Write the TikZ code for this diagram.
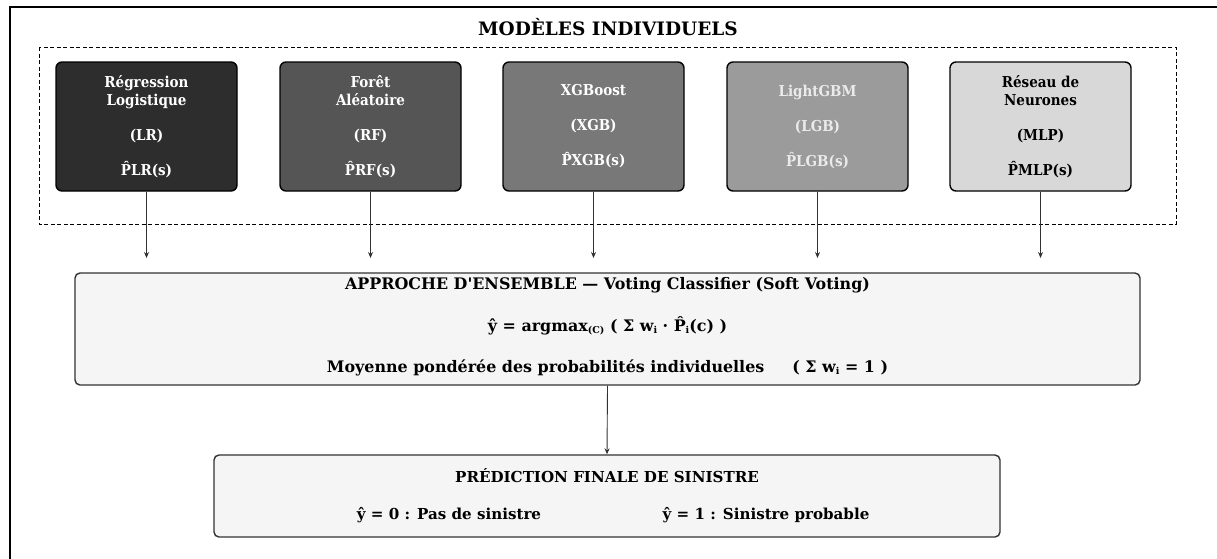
\documentclass[tikz,border=0pt]{standalone}
\usepackage{fontspec}
\setmainfont{DejaVu Serif}
\newfontfamily\etroit{DejaVu Serif Condensed}
\usetikzlibrary{arrows.meta,positioning}

\definecolor{fondA}{RGB}{45,45,45}
\definecolor{fondB}{RGB}{85,85,85}
\definecolor{fondC}{RGB}{120,120,120}
\definecolor{fondD}{RGB}{155,155,155}
\definecolor{fondE}{RGB}{216,216,216}
\definecolor{fondEns}{RGB}{245,245,245}
\definecolor{trait}{RGB}{50,50,50}

\newcommand{\indice}[1]{{\fontsize{9.5}{9.5}\selectfont\raisebox{-0.3ex}{#1}}}

\begin{document}
\begin{tikzpicture}[x=1pt,y=-1pt,>=Stealth,
  modele/.style={draw=black, line width=1.4pt, rounded corners=6pt,
    minimum width=181pt, minimum height=129pt, align=center,
    font=\etroit\bfseries\fontsize{15}{17.5}\selectfont},
  bloc/.style={draw=trait, line width=1.4pt, rounded corners=5pt, fill=fondEns},
  texte/.style={font=\bfseries\fontsize{15.9}{18}\selectfont},
  fleche/.style={->, draw=trait, line width=0.9pt, shorten >=0pt,
    >={Stealth[length=6pt,width=5pt]}}]
  \useasboundingbox (0,0) rectangle (1217,558);
  \clip (0,0) rectangle (1217,558);
  % ---- cadre ----
  \draw[line width=2.5pt] (10,570) -- (10,7) -- (1230,7);
  \node[font=\bfseries\fontsize{18.5}{20}\selectfont] (titre) at (608,27) {MODÈLES INDIVIDUELS};
  \draw[dashed, line width=0.9pt, dash pattern=on 4pt off 2.5pt] (39,47) rectangle (1176,224);
  % ---- modeles individuels ----
  \foreach \nom/\x/\fond/\enc/\txt in {
      lr/146.5/fondA/white/{Régression\\Logistique\\[17.5pt](LR)\\[17.5pt]P̂LR(s)},
      rf/370.5/fondB/white/{Forêt\\Aléatoire\\[17.5pt](RF)\\[17.5pt]P̂RF(s)},
      xgb/593.5/fondC/white/{XGBoost\\[17.5pt](XGB)\\[17.5pt]P̂XGB(s)},
      lgb/817.5/fondD/white!92!black/{LightGBM\\[17.5pt](LGB)\\[17.5pt]P̂LGB(s)},
      mlp/1040.5/fondE/black/{Réseau de\\Neurones\\[17.5pt](MLP)\\[17.5pt]P̂MLP(s)}} {
    \node[modele, fill=\fond, text=\enc] (\nom) at (\x,126.5) {\txt};
    \coordinate (\nom-bas) at (\x,258);
    \draw[fleche] (\nom.south) -- (\nom-bas);
  }
  % ---- approche d'ensemble ----
  \node[bloc, minimum width=1065pt, minimum height=112pt] (ens) at (607.5,329) {};
  \node[texte] (ensTitre) at (607.5,285) {APPROCHE D\textquotesingle ENSEMBLE — Voting Classifier (Soft Voting)};
  \node[texte] (ensFormule) at (607.5,326) {ŷ = argmax\indice{(C)} ( Σ w\indice{i} · P̂\indice{i}(c) )};
  \node[texte] (ensMoy) at (607.5,368) {Moyenne pondérée des probabilités individuelles\hspace{28pt}( Σ w\indice{i} = 1 )};
  % ---- prediction finale ----
  \node[bloc, minimum width=786pt, minimum height=82pt] (fin) at (607,496) {};
  \draw[fleche] (ens.south) -- (fin.north);
  \node[texte, font=\bfseries\fontsize{15.1}{18}\selectfont] (finTitre) at (607,476) {PRÉDICTION FINALE DE SINISTRE};
  \node[texte, font=\bfseries\fontsize{15.1}{18}\selectfont] (finNon) at (449,515) {ŷ = 0 : Pas de sinistre};
  \node[texte, font=\bfseries\fontsize{15.1}{18}\selectfont] (finOui) at (766,515) {ŷ = 1 : Sinistre probable};
\end{tikzpicture}
\end{document}
